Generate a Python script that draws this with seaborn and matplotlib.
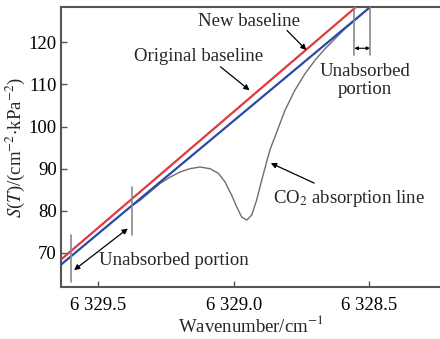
import numpy as np
import pandas as pd
import matplotlib
matplotlib.use("Agg")
import matplotlib.pyplot as plt
from matplotlib.ticker import FuncFormatter, FixedLocator
import seaborn as sns

# ---- data ----
new_wn = [6329.64, 6328.50]
new_s = [68.3, 131.1]
orig_wn = [6329.64, 6328.45]
orig_s = [67.1, 130.9]
abs_wn = [6329.383, 6329.346, 6329.309, 6329.272, 6329.235, 6329.199, 6329.162,
          6329.125, 6329.088, 6329.057, 6329.033, 6329.008, 6328.989, 6328.971,
          6328.952, 6328.934, 6328.916, 6328.897, 6328.879, 6328.866, 6328.848,
          6328.811, 6328.775, 6328.737, 6328.700, 6328.663, 6328.626, 6328.589,
          6328.559, 6328.495]
abs_s = [80.9, 82.5, 84.5, 86.5, 88.0, 89.2, 90.0,
         90.4, 90.0, 88.9, 86.9, 83.7, 80.9, 78.5,
         77.8, 79.0, 82.5, 87.3, 91.6, 94.6, 97.6,
         103.9, 108.6, 112.6, 115.8, 118.5, 120.9, 123.3,
         124.9, 128.5]
x_ticks = [6329.5, 6329.0, 6328.5]
y_ticks = [70, 80, 90, 100, 110, 120]

sns.set_style("ticks")
plt.rcParams['font.family'] = ['Liberation Serif', 'DejaVu Serif']
plt.rcParams['mathtext.fontset'] = 'stix'

fig = plt.figure(figsize=(4.4, 3.39), dpi=100)
ax = fig.add_axes([61/440, 1-287/339, 1-61/440, (287-7)/339])

df_new = pd.DataFrame({"wn": new_wn, "s": new_s})
df_orig = pd.DataFrame({"wn": orig_wn, "s": orig_s})
df_abs = pd.DataFrame({"wn": abs_wn, "s": abs_s})

sns.lineplot(data=df_abs, x="wn", y="s", ax=ax, color="#6e6e6e", lw=1.0, sort=False, zorder=2)
sns.lineplot(data=df_new, x="wn", y="s", ax=ax, color="#e0393e", lw=1.6, sort=False, zorder=3)
sns.lineplot(data=df_orig, x="wn", y="s", ax=ax, color="#2b4aa6", lw=1.6, sort=False, zorder=4)

ax.set_xlim(6329.638, 6328.239)
ax.set_ylim(61.9, 128.4)
ax.xaxis.set_major_locator(FixedLocator(x_ticks))
ax.yaxis.set_major_locator(FixedLocator(y_ticks))
ax.xaxis.set_major_formatter(FuncFormatter(lambda v, p: f"{v:,.1f}".replace(",", " ")))
fs = 13.5
ax.tick_params(direction="in", length=4, width=1, colors="#555555", labelcolor="black", labelsize=fs)
ax.tick_params(axis="x", pad=7)
ax.tick_params(axis="y", pad=3)
for s in ["left", "bottom", "top"]:
    ax.spines[s].set_color("#555555")
    ax.spines[s].set_linewidth(1.5)
ax.spines["right"].set_visible(False)
ax.set_xlabel("Wavenumber/cm$^{-1}$", fontsize=fs, labelpad=1)
ax.set_ylabel(r"$S$($T$)/(cm$^{-2}$$\cdot$kPa$^{-2}$)", fontsize=fs, labelpad=1)

# markers
mk = dict(color="#8a8a8a", lw=1.2, zorder=5)
ax.plot([6329.602, 6329.602], [63.1, 74.2], **mk)
ax.plot([6329.375, 6329.375], [74.2, 85.7], **mk)
ax.plot([6328.555, 6328.555], [116.9, 128.4], **mk)
ax.plot([6328.497, 6328.497], [116.9, 128.4], **mk)

arr = dict(arrowstyle="-|>", color="black", lw=0.9, mutation_scale=8)
darr = dict(arrowstyle="<|-|>", color="black", lw=0.9, mutation_scale=8)
ax.annotate("", xy=(6329.598, 65.5), xytext=(6329.383, 76.2), arrowprops=darr)
ax.annotate("", xy=(6328.555, 118.6), xytext=(6328.497, 118.6),
            arrowprops=dict(arrowstyle="<|-|>", color="black", lw=0.8, mutation_scale=5,
                            shrinkA=0, shrinkB=0))
ax.annotate("", xy=(6328.934, 108.2), xytext=(6329.057, 114.6), arrowprops=arr)
ax.annotate("", xy=(6328.725, 117.7), xytext=(6328.811, 123.3), arrowprops=arr)
ax.annotate("", xy=(6328.873, 91.6), xytext=(6328.694, 86.3), arrowprops=arr)

ax.text(6328.943, 125.0, "New baseline", ha="center", va="center", fontsize=fs)
ax.text(6329.130, 116.6, "Original baseline", ha="center", va="center", fontsize=fs)
ax.text(6328.516, 111.0, "Unabsorbed\nportion", ha="center", va="center", fontsize=fs, linespacing=1.05)
ax.text(6329.221, 68.3, "Unabsorbed portion", ha="center", va="center", fontsize=fs)
ax.text(6328.855, 83.0, "CO$_2$ absorption line", ha="left", va="center", fontsize=fs)

fig.savefig("out.png", dpi=100)
